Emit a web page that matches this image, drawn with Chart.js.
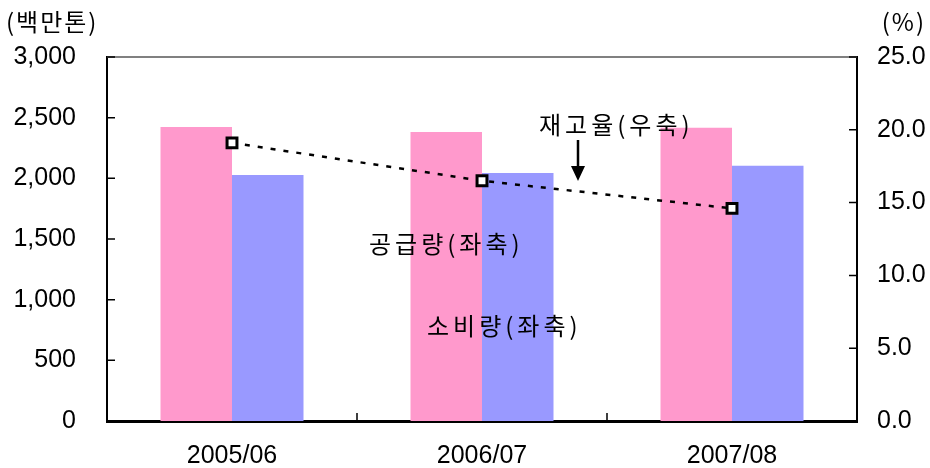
<!DOCTYPE html>
<html>
<head>
<meta charset="utf-8">
<script src="https://cdn.jsdelivr.net/npm/chart.js@4"></script>
<style>
  html, body { margin: 0; padding: 0; background: #fff; }
  #wrap { width: 930px; height: 468px; position: relative; }
</style>
</head>
<body>
<div id="wrap"><canvas id="chart"></canvas></div>
<script>
// Data
const years = ['2005/06', '2006/07', '2007/08'];
const supply = [2423, 2382, 2417];       // 공급량 (백만톤, 좌축)
const consumption = [2027, 2044, 2104];  // 소비량 (백만톤, 좌축)
const stockRatio = [19.1, 16.5, 14.6];   // 재고율 (%, 우축)

const KR_FONT = '"Noto Sans CJK KR", "Noto Sans", sans-serif';
const NUM_FONT = '"Liberation Sans", Arial, sans-serif';

// Inward tick marks, frame top line, and text annotations
const decorations = {
  id: 'decorations',
  afterDraw(chart) {
    const { ctx, chartArea: a, scales } = chart;
    ctx.save();

    // top frame line
    ctx.strokeStyle = '#808080';
    ctx.lineWidth = 2;
    ctx.beginPath();
    ctx.moveTo(a.left, a.top);
    ctx.lineTo(a.right, a.top);
    ctx.stroke();

    // inward ticks
    ctx.strokeStyle = '#000';
    ctx.lineWidth = 1.5;
    ctx.beginPath();
    scales.y.ticks.forEach(t => {
      const py = scales.y.getPixelForValue(t.value);
      ctx.moveTo(a.left, py);
      ctx.lineTo(a.left + 8, py);
    });
    scales.y1.ticks.forEach(t => {
      const py = scales.y1.getPixelForValue(t.value);
      ctx.moveTo(a.right, py);
      ctx.lineTo(a.right - 8, py);
    });
    for (let i = 1; i < years.length; i++) {
      const px = (scales.x.getPixelForValue(i - 1) + scales.x.getPixelForValue(i)) / 2;
      ctx.moveTo(px, a.bottom);
      ctx.lineTo(px, a.bottom - 8);
    }
    ctx.stroke();

    // unit labels
    ctx.fillStyle = '#000';
    ctx.font = '24px ' + KR_FONT;
    ctx.textBaseline = 'middle';
    ctx.letterSpacing = '2px';
    ctx.textAlign = 'left';
    ctx.fillText('(백만톤)', 6, 22);
    ctx.textAlign = 'right';
    ctx.fillText('(%)', 926, 22);

    // series annotations
    ctx.font = '24px ' + KR_FONT;
    ctx.letterSpacing = '4px';
    ctx.textAlign = 'left';
    ctx.fillText('재고율(우축)', 539, 125);
    ctx.fillText('공급량(좌축)', 369, 244);
    ctx.fillText('소비량(좌축)', 427, 326);
    ctx.letterSpacing = '0px';

    // arrow pointing at the line
    ctx.lineWidth = 2.5;
    ctx.beginPath();
    ctx.moveTo(578, 140);
    ctx.lineTo(578, 168);
    ctx.stroke();
    ctx.beginPath();
    ctx.moveTo(571, 166);
    ctx.lineTo(585, 166);
    ctx.lineTo(578, 181);
    ctx.closePath();
    ctx.fill();

    ctx.restore();
  }
};

new Chart(document.getElementById('chart'), {
  data: {
    labels: years,
    datasets: [
      {
        type: 'line',
        label: '재고율(우축)',
        data: stockRatio,
        yAxisID: 'y1',
        borderColor: '#000',
        borderWidth: 2.5,
        borderDash: [5, 8],
        pointStyle: 'rect',
        pointRadius: 7,
        pointBorderWidth: 3,
        pointBackgroundColor: '#fff',
        pointBorderColor: '#000',
        order: 0
      },
      {
        type: 'bar',
        label: '공급량(좌축)',
        data: supply,
        yAxisID: 'y',
        backgroundColor: '#FF99CC',
        categoryPercentage: 0.572,
        barPercentage: 1,
        order: 1
      },
      {
        type: 'bar',
        label: '소비량(좌축)',
        data: consumption,
        yAxisID: 'y',
        backgroundColor: '#9999FF',
        categoryPercentage: 0.572,
        barPercentage: 1,
        order: 1
      }
    ]
  },
  options: {
    responsive: true,
    maintainAspectRatio: false,
    animation: false,
    layout: { padding: { top: 57, left: 0, right: 0, bottom: 0 } },
    plugins: {
      legend: { display: false },
      tooltip: { enabled: false }
    },
    scales: {
      x: {
        grid: { display: false, drawTicks: false },
        border: { display: true, color: '#000', width: 3 },
        ticks: {
          color: '#000',
          padding: 20,
          font: { family: NUM_FONT, size: 25 }
        },
        afterFit(scale) { scale.height = 47; }
      },
      y: {
        position: 'left',
        min: 0,
        max: 3000,
        grid: { display: false, drawTicks: false },
        border: { display: true, color: '#000', width: 2 },
        ticks: {
          stepSize: 500,
          color: '#000',
          padding: 31,
          font: { family: NUM_FONT, size: 25 },
          callback: v => v.toLocaleString('en-US')
        },
        afterFit(scale) { scale.width = 107; }
      },
      y1: {
        position: 'right',
        min: 0,
        max: 25,
        grid: { display: false, drawTicks: false },
        border: { display: true, color: '#000', width: 2 },
        ticks: {
          stepSize: 5,
          color: '#000',
          padding: 20,
          font: { family: NUM_FONT, size: 25 },
          callback: v => v.toFixed(1)
        },
        afterFit(scale) { scale.width = 73; }
      }
    }
  },
  plugins: [decorations]
});
</script>
</body>
</html>
